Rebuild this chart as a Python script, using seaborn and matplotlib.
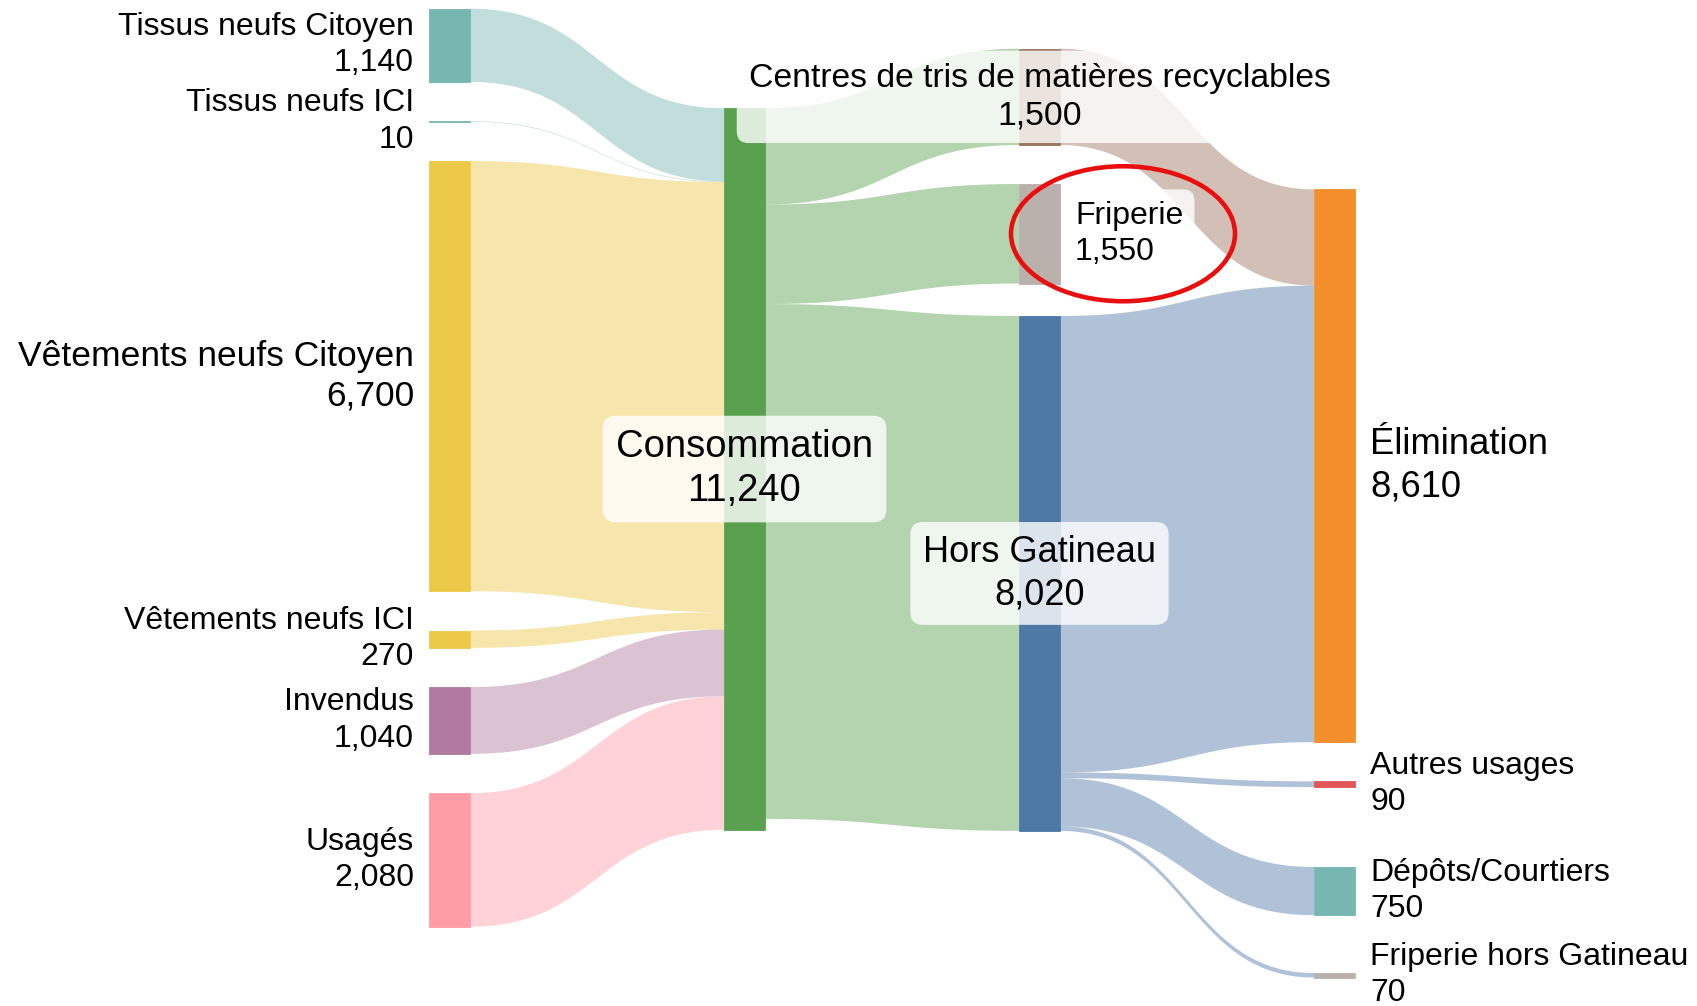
import numpy as np
import pandas as pd
import seaborn as sns
import matplotlib
matplotlib.use("Agg")
import matplotlib.pyplot as plt
from matplotlib.patches import Rectangle, Ellipse

# données : noeuds et flux (tonnes)
nodes = ['Tissus neufs Citoyen', 'Tissus neufs ICI', 'Vêtements neufs Citoyen',
         'Vêtements neufs ICI', 'Invendus', 'Usagés', 'Consommation',
         'Centres de tris de matières recyclables', 'Friperie', 'Hors Gatineau',
         'Élimination', 'Autres usages', 'Dépôts/Courtiers', 'Friperie hors Gatineau']
node_colors = ['#76b7b2', '#76b7b2', '#edc948', '#edc948', '#b07aa1', '#ff9da7', '#59a14f',
               '#9c755f', '#bab0ac', '#4e79a7', '#f28e2b', '#e15759', '#76b7b2', '#bab0ac']

flow_source = ['Tissus neufs Citoyen', 'Tissus neufs ICI', 'Vêtements neufs Citoyen',
               'Vêtements neufs ICI', 'Invendus', 'Usagés',
               'Consommation', 'Consommation', 'Consommation',
               'Centres de tris de matières recyclables',
               'Hors Gatineau', 'Hors Gatineau', 'Hors Gatineau', 'Hors Gatineau']
flow_target = ['Consommation'] * 6 + \
              ['Centres de tris de matières recyclables', 'Friperie', 'Hors Gatineau',
               'Élimination',
               'Élimination', 'Autres usages', 'Dépôts/Courtiers', 'Friperie hors Gatineau']
flow_value = [1140, 10, 6700, 270, 1040, 2080,
              1500, 1550, 8020,
              1500,
              7110, 90, 750, 70]

# mise en page (colonne, espace au-dessus du noeud en unités de valeur, position du libellé)
node_column = [0, 0, 0, 0, 0, 0, 1, 2, 2, 2, 3, 3, 3, 3]
node_gap = [135, 612, 612, 612, 612, 612, 1686, 759, 607, 506, 2950, 611, 1244, 901]
label_mode = ['left'] * 6 + ['center', 'center', 'right', 'center'] + ['right'] * 4
label_size = [23, 23, 25.5, 23, 23, 23, 27.5, 24.3, 23, 26, 26.2, 23, 23, 23]
boxed = ['Consommation', 'Centres de tris de matières recyclables', 'Friperie', 'Hors Gatineau']

sns.set_theme(style='white')
plt.rcParams['font.family'] = ['Liberation Sans', 'DejaVu Sans']
plt.rcParams['text.color'] = 'black'

df = pd.DataFrame({'source': flow_source, 'target': flow_target, 'value': flow_value})

W, H = 1697, 1006
px_per_unit = 0.0642
col_x0, col_step, node_w = 429, 295, 41

fig = plt.figure(figsize=(W / 100, H / 100), dpi=100)
ax = fig.add_axes([0, 0, 1, 1])
ax.set_xlim(0, W)
ax.set_ylim(H / px_per_unit, 0)
ax.axis('off')

# valeur de chaque noeud = max(entrées, sorties)
inflow = df.groupby('target')['value'].sum()
outflow = df.groupby('source')['value'].sum()
node_val = {n: max(inflow.get(n, 0), outflow.get(n, 0)) for n in nodes}

# position des noeuds : empilement par colonne
node_x, node_y = {}, {}
col_bottom = {}
for n, c, g in zip(nodes, node_column, node_gap):
    y = col_bottom.get(c, 0) + g
    node_x[n] = col_x0 + c * col_step
    node_y[n] = y
    col_bottom[c] = y + node_val[n]

# ordre des liens
df['sy'] = 0.0
df['ty'] = 0.0
for n in nodes:
    out_idx = df[df.source == n].assign(o=lambda d: d.target.map(node_y)).sort_values('o').index
    y = node_y[n]
    for i in out_idx:
        df.loc[i, 'sy'] = y
        y += df.loc[i, 'value']
    in_idx = df[df.target == n].assign(o=lambda d: d.source.map(node_y)).sort_values('o').index
    y = node_y[n]
    for i in in_idx:
        df.loc[i, 'ty'] = y
        y += df.loc[i, 'value']

color_of = dict(zip(nodes, node_colors))
t = np.linspace(0, 1, 100)


def bez(a, b, t):
    return (1 - t) ** 3 * a + 3 * (1 - t) ** 2 * t * a + 3 * (1 - t) * t ** 2 * b + t ** 3 * b


for _, r in df.iterrows():
    x0 = node_x[r.source] + node_w
    x1 = node_x[r.target]
    xm = (x0 + x1) / 2
    xs = (1 - t) ** 3 * x0 + 3 * (1 - t) ** 2 * t * xm + 3 * (1 - t) * t ** 2 * xm + t ** 3 * x1
    top = bez(r.sy, r.ty, t)
    bot = bez(r.sy + r.value, r.ty + r.value, t)
    ax.fill(np.concatenate([xs, xs[::-1]]), np.concatenate([top, bot[::-1]]),
            color=color_of[r.source], alpha=0.45, lw=0, zorder=1)

for n in nodes:
    ax.add_patch(Rectangle((node_x[n], node_y[n]), node_w, node_val[n],
                           fc=color_of[n], ec=color_of[n], lw=0.6, zorder=2))

for n, mode, fs in zip(nodes, label_mode, label_size):
    yc = node_y[n] + node_val[n] / 2
    txt = f'{n}\n{node_val[n]:,}'
    bbox = None
    if n in boxed:
        bbox = dict(boxstyle='round,pad=0.35,rounding_size=0.35', fc='white', ec='none', alpha=0.8)
    if mode == 'left':
        ax.text(node_x[n] - 15, yc, txt, ha='right', va='center', fontsize=fs,
                linespacing=1.28, multialignment='right', zorder=3)
    elif mode == 'right':
        ax.text(node_x[n] + node_w + 15, yc, txt, ha='left', va='center', fontsize=fs,
                linespacing=1.28, multialignment='left', bbox=bbox, zorder=3)
    else:
        ax.text(node_x[n] + node_w / 2, yc, txt, ha='center', va='center', fontsize=fs,
                linespacing=1.28, multialignment='center', bbox=bbox, zorder=3)

# cercle rouge autour de la friperie
fr = 'Friperie'
ax.add_patch(Ellipse((node_x[fr] + node_w + 63, node_y[fr] + node_val[fr] / 2),
                     224, 135 / px_per_unit, fill=False, ec='#e8100f', lw=3.3, zorder=4))

plt.savefig('out.png', dpi=100)
